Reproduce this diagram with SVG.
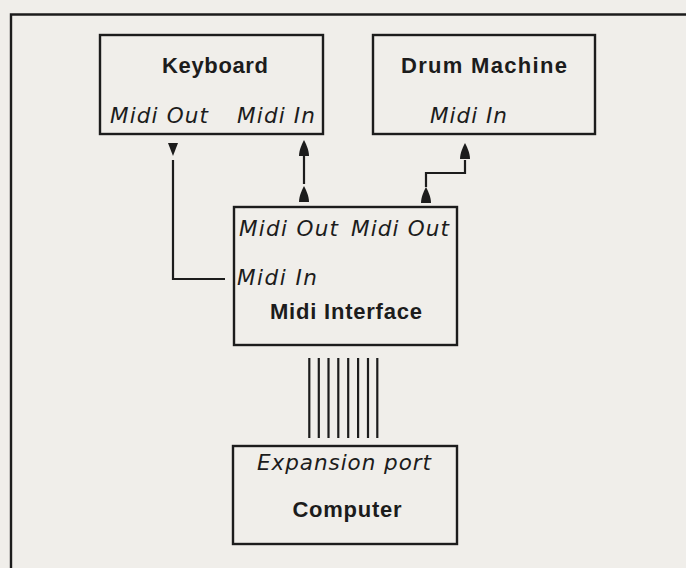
<svg xmlns="http://www.w3.org/2000/svg" width="686" height="568" viewBox="0 0 686 568">
<style>
.box{fill:none;stroke:#1c1c1c;stroke-width:2.4}
.wire{fill:none;stroke:#1c1c1c;stroke-width:2.2}
.head{fill:#1c1c1c}
.t{fill:#1c1c1c}
.b{font-family:"Liberation Sans","DejaVu Sans",sans-serif;font-weight:bold;font-size:22px}
.i{font-family:"DejaVu Sans","Open Sans","Liberation Sans",sans-serif;font-style:italic;font-size:21.5px}
</style>
<defs>
<path id="up" d="M0,-8 C2,-4 5,2 5,8 L-5,8 C-5,2 -2,-4 0,-8 Z"/>
<path id="down" d="M0,6.5 L-5,-6.5 L5,-6.5 Z"/>
</defs>
<rect width="686" height="568" fill="#f0eeea"/>
<path d="M11,568 L11,14.5 L686,14.5" class="box" stroke-width="2.6"/>
<g id="keyboard">
<rect class="box" x="100" y="35" width="223" height="99"/>
<text class="t b" x="215" y="73" text-anchor="middle" textLength="106" lengthAdjust="spacing">Keyboard</text>
<text class="t i" x="110" y="123" textLength="98" lengthAdjust="spacing">Midi Out</text>
<text class="t i" x="237" y="123" textLength="78" lengthAdjust="spacing">Midi In</text>
</g>
<g id="drum-machine">
<rect class="box" x="373" y="35" width="222" height="99"/>
<text class="t b" x="484" y="73" text-anchor="middle" textLength="166" lengthAdjust="spacing">Drum Machine</text>
<text class="t i" x="430" y="123" textLength="77" lengthAdjust="spacing">Midi In</text>
</g>
<g id="midi-interface">
<rect class="box" x="234" y="207" width="223" height="138"/>
<text class="t i" x="239" y="236" textLength="99" lengthAdjust="spacing">Midi Out</text>
<text class="t i" x="351" y="236" textLength="98" lengthAdjust="spacing">Midi Out</text>
<text class="t i" x="237" y="285" textLength="80" lengthAdjust="spacing">Midi In</text>
<text class="t b" x="346" y="319" text-anchor="middle" textLength="152" lengthAdjust="spacing">Midi Interface</text>
</g>
<g id="computer">
<rect class="box" x="233" y="446" width="224" height="98"/>
<text class="t i" x="344" y="470" text-anchor="middle" textLength="174" lengthAdjust="spacing">Expansion port</text>
<text class="t b" x="347" y="517" text-anchor="middle" textLength="109" lengthAdjust="spacing">Computer</text>
</g>
<g id="connectors">
<use href="#down" class="head" x="173" y="149.5"/>
<path class="wire" d="M173,160 L173,279 L225,279"/>
<use href="#up" class="head" x="304" y="148"/>
<path class="wire" d="M304,156 L304,184"/>
<use href="#up" class="head" x="304" y="194"/>
<use href="#up" class="head" x="426" y="195"/>
<path class="wire" d="M426,187 L426,173 L465,173 L465,160"/>
<use href="#up" class="head" x="465" y="151"/>
<g class="wire">
<line x1="309.3" y1="358" x2="309.3" y2="438"/>
<line x1="318.8" y1="358" x2="318.8" y2="438"/>
<line x1="328.5" y1="358" x2="328.5" y2="438"/>
<line x1="338.3" y1="358" x2="338.3" y2="438"/>
<line x1="348.2" y1="358" x2="348.2" y2="438"/>
<line x1="358.1" y1="358" x2="358.1" y2="438"/>
<line x1="368" y1="358" x2="368" y2="438"/>
<line x1="377.3" y1="358" x2="377.3" y2="438"/>
</g>
</g>
</svg>
